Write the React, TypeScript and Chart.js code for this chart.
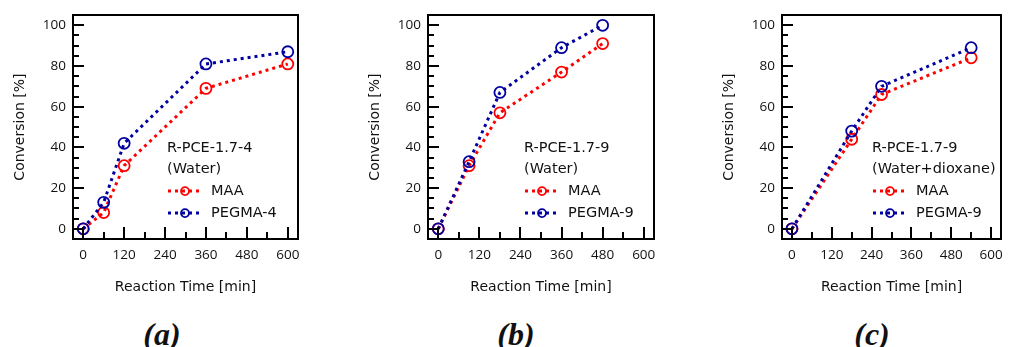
import React, { useEffect, useRef } from "react";
import { Chart, registerables } from "chart.js";
Chart.register(...registerables);

const RED = "#ff0000";
const BLUE = "#0000a0";
const TEXT = "#111111";

const xTickValues = [0, 120, 240, 360, 480, 600];
const yTickValues = [0, 20, 40, 60, 80, 100];

const timesA = [0, 60, 120, 360, 600];
const maaA = [0, 8, 31, 69, 81];
const pegmaA = [0, 13, 42, 81, 87];

const timesB = [0, 90, 180, 360, 480];
const maaB = [0, 31, 57, 77, 91];
const pegmaB = [0, 33, 67, 89, 100];

const timesC = [0, 180, 270, 540];
const maaC = [0, 44, 66, 84];
const pegmaC = [0, 48, 70, 89];

const seriesNameMAA = "MAA";
const xTitle = "Reaction Time [min]";
const yTitle = "Conversion [%]";

type PanelCfg = {
  tag: string;
  left: number;
  plotW: number;
  rightPad: number;
  legendTitle: string[];
  pegmaName: string;
  times: number[];
  maa: number[];
  pegma: number[];
  legendDx: number;
  labelX: number;
};

const panels: PanelCfg[] = [
  { tag: "(a)", left: 0, plotW: 225, rightPad: 39, legendTitle: ["R-PCE-1.7-4", "(Water)"], pegmaName: "PEGMA-4", times: timesA, maa: maaA, pegma: pegmaA, legendDx: 94, labelX: 162 },
  { tag: "(b)", left: 355, plotW: 226, rightPad: 30, legendTitle: ["R-PCE-1.7-9", "(Water)"], pegmaName: "PEGMA-9", times: timesB, maa: maaB, pegma: pegmaB, legendDx: 96, labelX: 516 },
  { tag: "(c)", left: 709, plotW: 227, rightPad: 2, legendTitle: ["R-PCE-1.7-9", "(Water+dioxane)"], pegmaName: "PEGMA-9", times: timesC, maa: maaC, pegma: pegmaC, legendDx: 90, labelX: 872 },
];

const AXIS_W = 73;
const XAXIS_H = 61;
const CANVAS_H = 300;

function Panel({ cfg }: { cfg: PanelCfg }) {
  const ref = useRef<HTMLCanvasElement | null>(null);
  const width = AXIS_W + cfg.plotW + cfg.rightPad;
  useEffect(() => {
    if (!ref.current) return;
    const framePlugin = {
      id: "frameTicksLegend",
      afterDraw(chart: any) {
        const { ctx, chartArea: ca, scales } = chart;
        const xs = scales.x;
        const ys = scales.y;
        ctx.save();
        ctx.strokeStyle = "#000";
        ctx.lineWidth = 2;
        ctx.setLineDash([]);
        ctx.strokeRect(Math.round(ca.left), Math.round(ca.top), Math.round(ca.width), Math.round(ca.height));
        for (let v = -5; v <= 105; v += 5) {
          const py = Math.round(ys.getPixelForValue(v));
          if (py <= ca.top + 1 || py >= ca.bottom - 1) continue;
          const len = v % 20 === 0 ? 11 : 6;
          ctx.beginPath();
          ctx.moveTo(ca.left, py);
          ctx.lineTo(ca.left + len, py);
          ctx.stroke();
        }
        for (let v = 0; v <= 600; v += 60) {
          const px = Math.round(xs.getPixelForValue(v));
          const len = v % 120 === 0 ? 12 : 7;
          ctx.beginPath();
          ctx.moveTo(px, ca.bottom);
          ctx.lineTo(px, ca.bottom - len);
          ctx.stroke();
        }
        const lx = ca.left + cfg.legendDx;
        const rows = [133, 154, 176, 198].map((d) => ca.top + d);
        ctx.fillStyle = TEXT;
        ctx.font = '14.5px "DejaVu Sans"';
        ctx.textBaseline = "middle";
        ctx.textAlign = "left";
        ctx.fillText(cfg.legendTitle[0], lx, rows[0]);
        ctx.fillText(cfg.legendTitle[1], lx, rows[1]);
        const entries = [
          { name: seriesNameMAA, color: RED, y: rows[2] },
          { name: cfg.pegmaName, color: BLUE, y: rows[3] },
        ];
        for (const e of entries) {
          const x0 = lx + 1;
          const x1 = lx + 34;
          ctx.strokeStyle = e.color;
          ctx.lineWidth = 3;
          ctx.setLineDash([3, 4]);
          ctx.beginPath();
          ctx.moveTo(x0, e.y);
          ctx.lineTo(x1, e.y);
          ctx.stroke();
          ctx.setLineDash([]);
          ctx.lineWidth = 1.8;
          ctx.beginPath();
          ctx.arc(lx + 18, e.y, 4, 0, Math.PI * 2);
          ctx.stroke();
          ctx.fillStyle = TEXT;
          ctx.fillText(e.name, lx + 44, e.y);
        }
        ctx.restore();
      },
    };
    const mk = (label: string, xsArr: number[], ysArr: number[], color: string, order: number) => ({
      label,
      data: xsArr.map((t, i) => ({ x: t, y: ysArr[i] })),
      borderColor: color,
      backgroundColor: color,
      borderWidth: 3,
      borderDash: [3, 4],
      borderCapStyle: "butt",
      pointRadius: 5.5,
      pointBorderWidth: 1.8,
      pointBorderColor: color,
      pointBackgroundColor: "rgba(0,0,0,0)",
      showLine: true,
      tension: 0,
      order,
    });
    const chart = new Chart(ref.current, {
      type: "scatter",
      data: {
        datasets: [
          mk(seriesNameMAA, cfg.times, cfg.maa, RED, 2),
          mk(cfg.pegmaName, cfg.times, cfg.pegma, BLUE, 1),
        ] as any,
      },
      options: {
        responsive: false,
        animation: false,
        devicePixelRatio: 1,
        layout: { padding: { left: 0, top: 14, right: cfg.rightPad, bottom: 0 } },
        plugins: { legend: { display: false }, tooltip: { enabled: false }, title: { display: false } },
        scales: {
          x: {
            type: "linear",
            position: "bottom",
            min: -30,
            max: 630,
            grid: { display: false, drawTicks: false },
            border: { display: false },
            ticks: { color: TEXT, font: { family: "Open Sans", size: 13.5 }, padding: 8, autoSkip: false, maxRotation: 0 },
            afterBuildTicks: (s: any) => {
              s.ticks = xTickValues.map((v) => ({ value: v }));
            },
            afterFit: (s: any) => {
              s.height = XAXIS_H;
            },
            title: { display: true, text: xTitle, color: TEXT, font: { family: "DejaVu Sans", size: 14 }, padding: { top: 0, bottom: 4.6 } },
          },
          y: {
            type: "linear",
            min: -5,
            max: 105,
            grid: { display: false, drawTicks: false },
            border: { display: false },
            ticks: { color: TEXT, font: { family: "Open Sans", size: 13.5 }, padding: 7, autoSkip: false },
            afterBuildTicks: (s: any) => {
              s.ticks = yTickValues.map((v) => ({ value: v }));
            },
            afterFit: (s: any) => {
              s.width = AXIS_W;
            },
            title: { display: true, text: yTitle, color: TEXT, font: { family: "DejaVu Sans", size: 14 }, padding: { top: 11.6, bottom: 0 } },
          },
        },
      } as any,
      plugins: [framePlugin],
    });
    return () => chart.destroy();
  }, []);
  return (
    <canvas
      ref={ref}
      width={width}
      height={CANVAS_H}
      style={{ position: "absolute", left: cfg.left, top: 0, width, height: CANVAS_H }}
    />
  );
}

export default function App() {
  return (
    <div style={{ position: "absolute", left: 0, top: 0, width: 1011, height: 347, background: "#fff", overflow: "hidden" }}>
      {panels.map((p) => (
        <Panel key={p.tag} cfg={p} />
      ))}
      {panels.map((p) => (
        <div
          key={"lab" + p.tag}
          style={{
            position: "absolute",
            left: p.labelX - 50,
            width: 100,
            top: 314,
            textAlign: "center",
            fontFamily: '"Liberation Serif", serif',
            fontStyle: "italic",
            fontWeight: "bold",
            fontSize: 32,
            lineHeight: "40px",
            color: TEXT,
            whiteSpace: "nowrap",
          }}
        >
          {p.tag}
        </div>
      ))}
    </div>
  );
}
